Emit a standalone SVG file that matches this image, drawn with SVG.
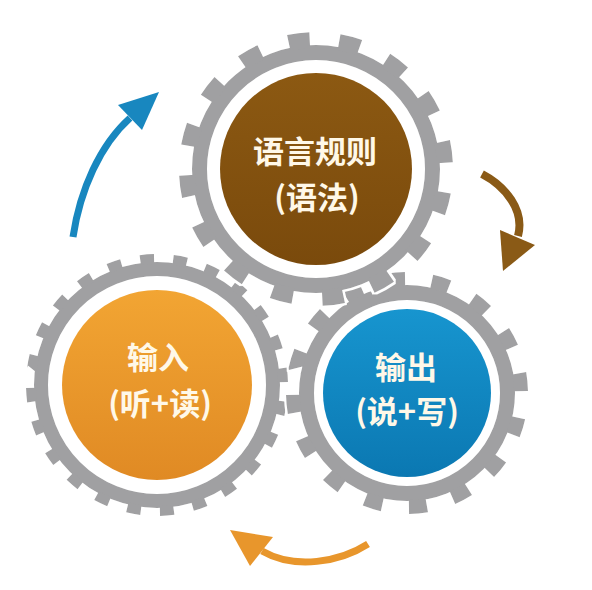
<svg xmlns="http://www.w3.org/2000/svg" width="592" height="590" viewBox="0 0 592 590">
<defs>
<linearGradient id="gBrown" x1="0" y1="0" x2="0" y2="1"><stop offset="0" stop-color="#8c5912"/><stop offset="1" stop-color="#7a4a0c"/></linearGradient>
<linearGradient id="gOrange" x1="0" y1="0" x2="0" y2="1"><stop offset="0" stop-color="#f2a533"/><stop offset="1" stop-color="#e08a24"/></linearGradient>
<linearGradient id="gBlue" x1="0" y1="0" x2="0" y2="1"><stop offset="0" stop-color="#1795cf"/><stop offset="1" stop-color="#0b78b2"/></linearGradient>
<filter id="halo" x="-10%" y="-10%" width="120%" height="120%">
<feMorphology in="SourceAlpha" operator="dilate" radius="1.5" result="d"/>
<feFlood flood-color="#ffffff"/>
<feComposite in2="d" operator="in" result="w"/>
<feMerge><feMergeNode in="w"/><feMergeNode in="SourceGraphic"/></feMerge>
</filter>
<style>
.ring{fill:none;stroke:#a0a0a2}
.teeth{fill:none;stroke:#a0a0a2}
.lbl{font-family:"Noto Sans CJK SC","Noto Sans",sans-serif;font-weight:700;font-size:31px;fill:#fff8e8;text-anchor:middle}
.arrow{fill:none;stroke-linecap:butt}
</style>
</defs>
<rect width="592" height="590" fill="#ffffff"/>

<g id="gear-input">
<g filter="url(#halo)">
<circle class="ring" cx="157" cy="385" r="116" stroke-width="14"/>
<circle class="teeth" cx="157" cy="385" r="126" stroke-width="10" pathLength="360" stroke-dasharray="6.3 8.7" transform="rotate(7.35 157 385)"/>
</g>
<circle cx="157" cy="385" r="95" fill="url(#gOrange)"/>
<text class="lbl" x="158" y="369">输入</text>
<text class="lbl" x="160" y="415">(听+读)</text>
</g>

<g id="gear-output">
<g filter="url(#halo)">
<circle class="ring" cx="407" cy="393" r="100.5" stroke-width="15"/>
<circle class="teeth" cx="407" cy="393" r="114" stroke-width="14" pathLength="360" stroke-dasharray="9 13.5" transform="rotate(12.5 407 393)"/>
</g>
<circle cx="407" cy="393" r="84" fill="url(#gBlue)"/>
<text class="lbl" x="406" y="379">输出</text>
<text class="lbl" x="407" y="423">(说+写)</text>
</g>

<g id="gear-grammar">
<g filter="url(#halo)">
<circle class="ring" cx="316" cy="169" r="116.5" stroke-width="15"/>
<circle class="teeth" cx="316" cy="169" r="129" stroke-width="16" pathLength="360" stroke-dasharray="9.4 13.1" transform="rotate(10.3 316 169)"/>
</g>
<circle cx="316" cy="169" r="96" fill="url(#gBrown)"/>
<text class="lbl" x="315" y="163">语言规则</text>
<text class="lbl" x="317" y="209">(语法)</text>
</g>

<g id="connectors">
<path class="arrow" d="M73,237 C80,190 100,145 130,118" stroke="#1887bf" stroke-width="7"/>
<polygon points="159,92 118,105 142,130" fill="#1887bf"/>
<path class="arrow" d="M482,174 C505,186 525,210 518,236" stroke="#8a5a16" stroke-width="8"/>
<polygon points="503,271 500,230 535,245" fill="#8a5a16"/>
<path class="arrow" d="M368,544 C340,562 295,570 262,551" stroke="#e8962c" stroke-width="7"/>
<polygon points="230,530 273,537 250,566" fill="#e8962c"/>
</g>
</svg>
